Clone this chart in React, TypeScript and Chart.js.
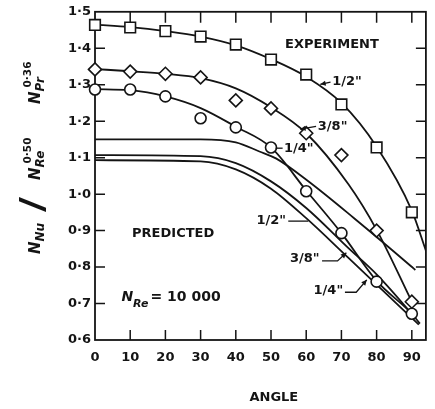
import { useEffect, useRef } from "react";
import { Chart, registerables } from "chart.js";

Chart.register(...registerables);

// Axis ticks
const angleTicks = [0, 10, 20, 30, 40, 50, 60, 70, 80, 90];
const ratioTicks = [0.6, 0.7, 0.8, 0.9, 1.0, 1.1, 1.2, 1.3, 1.4, 1.5];

// Measured points (angle in degrees)
const angles = [0, 10, 20, 30, 40, 50, 60, 70, 80, 90];
const halfInchMeasured = [1.464, 1.457, 1.447, 1.432, 1.41, 1.369, 1.328, 1.246, 1.128, 0.95];
const threeEighthMeasured = [1.342, 1.336, 1.33, 1.32, 1.257, 1.235, 1.167, 1.107, 0.9, 0.705];
const quarterInchMeasured = [1.287, 1.287, 1.268, 1.208, 1.183, 1.128, 1.008, 0.893, 0.76, 0.672];

// Smooth experimental curves
const halfFitAngles = [0, 10, 20, 30, 40, 50, 60, 70, 80, 90, 94];
const halfFitValues = [1.465, 1.458, 1.447, 1.432, 1.408, 1.37, 1.322, 1.25, 1.13, 0.955, 0.845];
const threeEighthFitAngles = [0, 10, 20, 30, 40, 50, 60, 72, 80, 90];
const threeEighthFitValues = [1.343, 1.337, 1.33, 1.318, 1.29, 1.238, 1.167, 1.027, 0.902, 0.705];
const quarterFitAngles = [0, 10, 20, 30, 40, 50, 60, 70, 80, 90, 92.3];
const quarterFitValues = [1.288, 1.285, 1.268, 1.236, 1.185, 1.128, 1.01, 0.893, 0.762, 0.672, 0.645];

// Predicted curves
const predHalfAngles = [0, 30, 40, 46.7, 51.4, 60.5, 73.6, 89.7, 91];
const predHalfValues = [1.15, 1.15, 1.142, 1.117, 1.098, 1.036, 0.934, 0.803, 0.792];
const predThreeEighthAngles = [0, 30, 40, 50, 60, 72, 80, 91];
const predThreeEighthValues = [1.107, 1.104, 1.085, 1.035, 0.962, 0.852, 0.78, 0.661];
const predQuarterAngles = [0, 30, 40, 50, 60, 72, 80, 92];
const predQuarterValues = [1.093, 1.09, 1.068, 1.015, 0.934, 0.825, 0.752, 0.642];

// Curve tags with leader lines (angle, ratio)
const tagTexts = ['1/2"', '3/8"', '1/4"', '1/2"', '3/8"', '1/4"'];
const tagAngles = [67.4, 63.3, 53.7, 54.3, 63.8, 70.5];
const tagValues = [1.309, 1.186, 1.126, 0.926, 0.822, 0.735];
const tagAlign: CanvasTextAlign[] = ["left", "left", "left", "right", "right", "right"];
const tagLeaders: number[][][] = [
  [[66.9, 1.307], [64.0, 1.301]],
  [[62.8, 1.186], [58.3, 1.178]],
  [[53.3, 1.126], [51.3, 1.126]],
  [[54.9, 0.926], [60.6, 0.926]],
  [[64.5, 0.817], [68.9, 0.817], [71.4, 0.839]],
  [[71.0, 0.731], [74.2, 0.731], [77.2, 0.765]],
];
const tagArrow = [true, true, false, false, true, true];

const INK = "#141414";
const FONT = '"DejaVu Sans", sans-serif';

const pts = (xs: number[], ys: number[]) => xs.map((x, i) => ({ x, y: ys[i] }));
const fmtRatio = (v: number) => v.toFixed(1).replace(".", "·");

function arrowHead(ctx: CanvasRenderingContext2D, fx: number, fy: number, tx: number, ty: number) {
  const a = Math.atan2(ty - fy, tx - fx);
  const s = 6;
  ctx.beginPath();
  ctx.moveTo(tx, ty);
  ctx.lineTo(tx - s * Math.cos(a - 0.45), ty - s * Math.sin(a - 0.45));
  ctx.lineTo(tx - s * Math.cos(a + 0.45), ty - s * Math.sin(a + 0.45));
  ctx.closePath();
  ctx.fill();
}

const paperPlugin = {
  id: "paperFrame",
  beforeDatasetsDraw(chart: any) {
    const { ctx, chartArea: a, scales } = chart;
    const xs = scales.x;
    const ys = scales.y;
    ctx.save();
    ctx.strokeStyle = INK;
    ctx.lineWidth = 1.8;
    ctx.strokeRect(a.left, a.top, a.right - a.left, a.bottom - a.top);
    ctx.lineWidth = 1.5;
    ctx.beginPath();
    angleTicks.forEach((v) => {
      if (v === 0) return;
      const px = xs.getPixelForValue(v);
      ctx.moveTo(px, a.bottom);
      ctx.lineTo(px, a.bottom - 10);
      ctx.moveTo(px, a.top);
      ctx.lineTo(px, a.top + 11);
    });
    ratioTicks.forEach((v) => {
      if (v === ratioTicks[0] || v === ratioTicks[ratioTicks.length - 1]) return;
      const py = ys.getPixelForValue(v);
      ctx.moveTo(a.left, py);
      ctx.lineTo(a.left + 10, py);
      ctx.moveTo(a.right, py);
      ctx.lineTo(a.right - 10, py);
    });
    ctx.stroke();
    ctx.restore();
  },
  afterDatasetsDraw(chart: any) {
    const { ctx, scales } = chart;
    const xs = scales.x;
    const ys = scales.y;
    const X = (v: number) => xs.getPixelForValue(v);
    const Y = (v: number) => ys.getPixelForValue(v);
    ctx.save();
    ctx.fillStyle = INK;
    ctx.strokeStyle = INK;
    ctx.textBaseline = "middle";

    // captions inside the plot
    ctx.font = `bold 13px ${FONT}`;
    ctx.textAlign = "center";
    ctx.fillText("EXPERIMENT", X(67.3), Y(1.41));
    ctx.fillText("PREDICTED", X(22.2), Y(0.893));

    // Reynolds number note
    ctx.textAlign = "left";
    ctx.textBaseline = "alphabetic";
    let nx = X(7.5);
    const ny = Y(0.721) + 5;
    ctx.font = `italic bold 14px ${FONT}`;
    ctx.fillText("N", nx, ny);
    nx += ctx.measureText("N").width;
    ctx.font = `italic bold 11px ${FONT}`;
    ctx.fillText("Re", nx, ny + 6);
    nx += ctx.measureText("Re").width + 2;
    ctx.font = `bold 14px ${FONT}`;
    ctx.fillText("= 10 000", nx, ny);

    // curve tags
    ctx.textBaseline = "middle";
    ctx.font = `bold 13px ${FONT}`;
    ctx.lineWidth = 1.3;
    tagTexts.forEach((t, i) => {
      ctx.textAlign = tagAlign[i];
      ctx.fillText(t, X(tagAngles[i]), Y(tagValues[i]));
      const path = tagLeaders[i];
      ctx.beginPath();
      path.forEach(([ax, av], k) => {
        if (k === 0) ctx.moveTo(X(ax), Y(av));
        else ctx.lineTo(X(ax), Y(av));
      });
      ctx.stroke();
      if (tagArrow[i]) {
        const p = path[path.length - 2];
        const q = path[path.length - 1];
        arrowHead(ctx, X(p[0]), Y(p[1]), X(q[0]), Y(q[1]));
      }
    });

    // x-axis title
    ctx.textAlign = "center";
    ctx.font = `bold 13px ${FONT}`;
    ctx.fillText("ANGLE", X(50.8), 398);

    // y-axis title: N_Nu / N_Re^0.50 N_Pr^0.36
    ctx.translate(40, 254);
    ctx.rotate(-Math.PI / 2);
    ctx.textAlign = "left";
    ctx.textBaseline = "alphabetic";
    const mainFont = `italic bold 15px ${FONT}`;
    const subFont = `italic bold 12px ${FONT}`;
    const supFont = `bold 10.5px ${FONT}`;
    const group = (u: number, sub: string, sup?: string) => {
      ctx.font = mainFont;
      ctx.fillText("N", u, 0);
      const w = ctx.measureText("N").width;
      ctx.font = subFont;
      ctx.fillText(sub, u + w, 4);
      const sw = ctx.measureText(sub).width;
      if (sup) {
        ctx.font = supFont;
        ctx.fillText(sup, u + w + 4, -9);
      }
      return u + w + sw;
    };
    group(0, "Nu");
    ctx.save();
    ctx.translate(42, 6);
    ctx.scale(1.5, 1);
    ctx.font = `36px "Liberation Sans", sans-serif`;
    ctx.fillText("/", 0, 0);
    ctx.restore();
    group(74, "Re", "0·50");
    group(150, "Pr", "0·36");
    ctx.restore();
  },
};

export default function App() {
  const ref = useRef<HTMLCanvasElement | null>(null);

  useEffect(() => {
    if (!ref.current) return;
    const line = (xs: number[], ys: number[]) => ({
      data: pts(xs, ys),
      showLine: true,
      borderColor: INK,
      borderWidth: 1.8,
      pointRadius: 0,
      cubicInterpolationMode: "monotone" as const,
      fill: false,
      order: 2,
    });
    const marks = (ys: number[], style: string, r: number) => ({
      data: pts(angles, ys),
      showLine: false,
      pointStyle: style,
      pointRadius: r,
      pointBackgroundColor: "#ffffff",
      pointBorderColor: INK,
      pointBorderWidth: 1.6,
      clip: false,
      order: 0,
    });

    const chart = new Chart(ref.current, {
      type: "scatter",
      data: {
        datasets: [
          line(halfFitAngles, halfFitValues),
          line(threeEighthFitAngles, threeEighthFitValues),
          line(quarterFitAngles, quarterFitValues),
          line(predHalfAngles, predHalfValues),
          line(predThreeEighthAngles, predThreeEighthValues),
          line(predQuarterAngles, predQuarterValues),
          marks(halfInchMeasured, "rect", 7.5),
          marks(threeEighthMeasured, "rectRot", 6.5),
          marks(quarterInchMeasured, "circle", 5.5),
        ] as any,
      },
      options: {
        responsive: false,
        animation: false,
        events: [],
        layout: { padding: { left: 0, right: 2, top: 10, bottom: 0 } },
        plugins: { legend: { display: false }, tooltip: { enabled: false } },
        scales: {
          x: {
            type: "linear",
            min: 0,
            max: 94,
            afterBuildTicks: (s: any) => {
              s.ticks = angleTicks.map((value) => ({ value }));
            },
            afterFit: (s: any) => {
              s.height = 69;
            },
            grid: { display: false, drawTicks: false },
            border: { display: false },
            ticks: {
              autoSkip: false,
              maxRotation: 0,
              padding: 10,
              color: INK,
              font: { family: FONT, size: 13, weight: "bold" },
              callback: (v: any) => String(v),
            },
          },
          y: {
            type: "linear",
            min: 0.6,
            max: 1.5,
            afterBuildTicks: (s: any) => {
              s.ticks = ratioTicks.map((value) => ({ value }));
            },
            afterFit: (s: any) => {
              s.width = 95;
            },
            grid: { display: false, drawTicks: false },
            border: { display: false },
            ticks: {
              autoSkip: false,
              padding: 4,
              color: INK,
              font: { family: FONT, size: 13, weight: "bold" },
              callback: (v: any) => fmtRatio(Number(v)),
            },
          },
        },
      },
      plugins: [paperPlugin],
    });
    return () => chart.destroy();
  }, []);

  return (
    <div style={{ position: "fixed", left: 0, top: 0, width: 435, height: 409, background: "#fff" }}>
      <canvas ref={ref} width={435} height={409} style={{ display: "block" }} />
    </div>
  );
}
